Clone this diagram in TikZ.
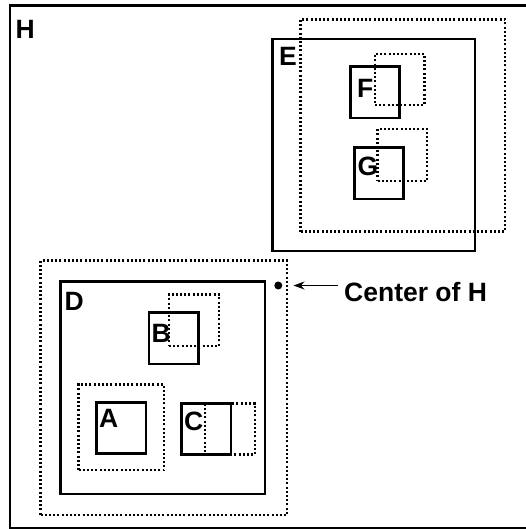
\documentclass[tikz,border=0pt]{standalone}
\usepackage{fontspec}
\setmainfont{Liberation Sans}
\usetikzlibrary{arrows.meta, positioning, fit}

\tikzset{
    solidbox/.style={draw, line width=2.2pt, inner sep=0pt},
    dotbox/.style={draw, line width=2.2pt, dash pattern=on 2pt off 2.2pt, inner sep=0pt},
    tag/.style={anchor=base west, inner sep=0pt, font=\fontsize{26.5}{26.5}\selectfont\bfseries},
}

\begin{document}
\begin{tikzpicture}[x=1pt, y=-1pt]
    \useasboundingbox (0,0) rectangle (525,529);

    % Solid boxes: name/left/top/right/bottom
    \foreach \n/\xa/\ya/\xb/\yb in {H/10/5.5/540/528, E/272.5/39/475/251,
        F/350.5/66.5/399.5/118, G/354.5/147.5/403.5/199, D/60.5/281.5/265/494,
        B/149/312.5/198.5/364, A/96.5/402.5/146/453.5, C/181.5/403.5/231/454.5} {
        \node[solidbox, fit={(\xa,\ya) (\xb,\yb)}] (\n) {};
    }

    % Dotted boxes
    \foreach \n/\xa/\ya/\xb/\yb in {E/300.5/19.5/505/231.5, F/375/54/424.5/105,
        G/377.5/129/427/181, D/40.5/260.5/287/515, B/169/294.5/219/346,
        A/78.5/384.5/164/470, C/205/403.5/255/454.5} {
        \node[dotbox, fit={(\xa,\ya) (\xb,\yb)}] (\n-moved) {};
    }

    % Box letters
    \foreach \n/\dx/\dy in {H/6.5/34.5, E/7.5/27.7, F/7.5/32.3, G/4/29.4,
        D/5/30, B/3.5/31, A/3.5/26, C/3.5/27.7} {
        \node[tag] (\n-tag) at ([shift={(\dx,\dy)}]\n.north west) {\n};
    }

    % Center point
    \node[circle, fill, inner sep=0pt, minimum size=8pt] (ctr) at (278.3,285.5) {};
    \node[tag] (ctr-text) at (344,301) {Center of H};
    \draw[-{Stealth[length=11pt, width=8pt]}, line width=1.3pt, shorten <=6pt, shorten >=11pt]
        (ctr-text.west |- ctr) -- (ctr);
\end{tikzpicture}
\end{document}
